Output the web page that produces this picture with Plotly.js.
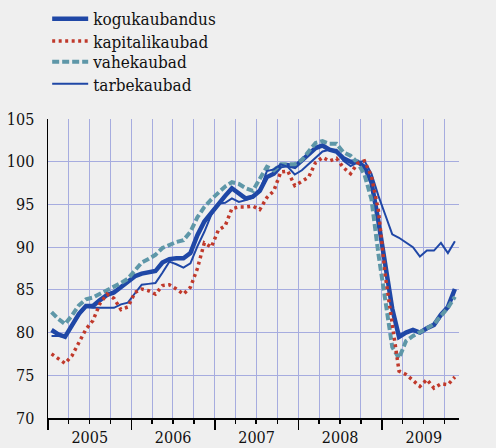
<!DOCTYPE html>
<html><head><meta charset="utf-8">
<script src="https://cdn.plot.ly/plotly-3.0.1.min.js"></script>
<style>html,body{margin:0;padding:0;background:#efefef}</style>
</head><body><div id="chart" style="width:496px;height:448px"></div>
<script>
const months = [
 "2005-01","2005-02","2005-03","2005-04","2005-05","2005-06","2005-07","2005-08","2005-09","2005-10","2005-11","2005-12",
 "2006-01","2006-02","2006-03","2006-04","2006-05","2006-06","2006-07","2006-08","2006-09","2006-10","2006-11","2006-12",
 "2007-01","2007-02","2007-03","2007-04","2007-05","2007-06","2007-07","2007-08","2007-09","2007-10","2007-11","2007-12",
 "2008-01","2008-02","2008-03","2008-04","2008-05","2008-06","2008-07","2008-08","2008-09","2008-10","2008-11","2008-12",
 "2009-01","2009-02","2009-03","2009-04","2009-05","2009-06","2009-07","2009-08","2009-09","2009-10","2009-11"];

const kogukaubandus = [
 80.3, 79.8, 79.5, 80.8, 82.2, 83.1, 83.1, 83.8, 84.4, 84.7, 85.3, 85.9,
 86.6, 86.9, 87.0, 87.2, 88.2, 88.6, 88.7, 88.7, 89.3, 91.4, 93.0, 94.0,
 95.2, 96.0, 96.9, 96.3, 95.7, 95.9, 96.6, 98.2, 98.6, 99.5, 99.6, 99.4,
 100.2, 100.9, 101.6, 101.9, 101.4, 101.2, 100.4, 100.0, 100.0, 99.4, 97.6, 93.0,
 87.7, 82.8, 79.5, 80.0, 80.3, 80.0, 80.5, 80.9, 82.1, 83.0, 85.1];

const kapitalikaubad = [
 77.5, 77.0, 76.4, 77.3, 78.9, 80.4, 81.4, 83.4, 84.5, 84.0, 82.7, 83.0,
 84.7, 85.1, 84.9, 84.5, 85.5, 85.6, 85.1, 84.5, 85.3, 87.5, 90.5, 90.0,
 92.0, 92.5, 94.5, 94.7, 94.7, 94.8, 94.4, 95.8, 96.6, 98.8, 98.9, 97.2,
 97.7, 98.2, 99.9, 100.5, 100.1, 100.4, 99.3, 98.6, 99.8, 100.1, 98.3, 94.3,
 86.5, 81.0, 75.5, 75.1, 74.4, 73.7, 74.5, 73.5, 74.0, 73.9, 74.8];

const vahekaubad = [
 82.4, 81.6, 81.0, 82.0, 83.2, 83.9, 84.1, 84.5, 84.9, 85.3, 85.8, 86.3,
 87.2, 88.2, 88.6, 89.1, 89.9, 90.3, 90.6, 90.8, 91.8, 93.5, 94.7, 95.6,
 96.4, 97.1, 97.6, 97.4, 96.9, 96.6, 98.0, 99.4, 99.0, 99.7, 99.7, 99.7,
 100.2, 101.2, 102.2, 102.4, 102.1, 102.1, 101.1, 100.7, 99.9, 98.5, 95.6, 89.2,
 83.4, 78.3, 77.0, 79.0, 79.6, 80.0, 80.5, 81.0, 81.9, 82.9, 84.2];

const tarbekaubad = [
 79.6, 79.6, 79.5, 80.8, 82.0, 83.0, 82.9, 82.9, 82.9, 82.9, 83.3, 83.5,
 84.6, 85.6, 85.7, 85.8, 87.0, 88.3, 88.0, 87.6, 88.1, 90.1, 91.8, 93.8,
 95.1, 95.2, 95.7, 95.3, 95.5, 95.8, 96.6, 98.9, 99.1, 99.7, 99.4, 98.5,
 99.0, 99.7, 100.5, 101.2, 101.4, 101.4, 100.1, 99.5, 99.9, 100.1, 98.6, 96.0,
 93.7, 91.5, 91.1, 90.5, 90.0, 88.9, 89.6, 89.6, 90.5, 89.3, 90.7];

const yTicks = [70, 75, 80, 85, 90, 95, 100, 105];

const FONT = 'DejaVu Serif Condensed, DejaVu Serif';
const GRID = "#a6acdf";
const BLUE = "#1f47a6";

const common = {type:'scatter', mode:'lines', x: months, xperiod:'M1', xperiodalignment:'middle', hoverinfo:'skip'};

const traces = [
 Object.assign({}, common, {name:'kogukaubandus', y:kogukaubandus, line:{color:BLUE, width:4.5}, legend:'legend'}),
 Object.assign({}, common, {name:'vahekaubad', y:vahekaubad, line:{color:'#5e97a8', width:4, dash:'7px,3px'}, legend:'legend3'}),
 Object.assign({}, common, {name:'tarbekaubad', y:tarbekaubad, line:{color:BLUE, width:2}, legend:'legend4'}),
 Object.assign({}, common, {name:'kapitalikaubad', y:kapitalikaubad, line:{color:'#c0392b', width:3.5, dash:'3px,3.5px'}, legend:'legend2'})
];

function leg(yc) {
  return {x:-0.002, y:yc, xanchor:'left', yanchor:'middle', bgcolor:'rgba(0,0,0,0)', borderwidth:0,
          font:{family:FONT, size:17, color:'#111'}, itemwidth:36};
}

const layout = {
 width:496, height:448,
 paper_bgcolor:'#efefef', plot_bgcolor:'#efefef',
 margin:{l:48, r:37, t:119, b:30, autoexpand:false},
 font:{family:FONT, size:16, color:'#111'},
 showlegend:true,
 legend: leg(1.334),
 legend2: leg(1.259),
 legend3: leg(1.190),
 legend4: leg(1.116),
 xaxis:{type:'date', range:['2005-01-01','2009-12-04'], tick0:'2005-01-01', dtick:'M12', tickformat:'%Y', ticklabelmode:'period',
   showgrid:true, gridcolor:GRID, gridwidth:1, ticks:'outside', ticklen:10, tickcolor:'#000', tickwidth:1.5,
   showline:true, linecolor:'#000', linewidth:1.5, zeroline:false, fixedrange:true, ticklabelstandoff:-6,
   tickfont:{family:FONT, size:16, color:'#111'},
   minor:{tick0:'2005-01-01', dtick:'M3', ticks:'outside', ticklen:4, tickcolor:'#000', tickwidth:1.5, showgrid:true, gridcolor:GRID, gridwidth:1}},
 yaxis:{range:[70,105], tickvals:yTicks, showgrid:true, gridcolor:GRID, gridwidth:1, showline:true, linecolor:'#000', linewidth:1.5,
   ticks:'', zeroline:false, fixedrange:true, ticklabelstandoff:9, tickfont:{family:FONT, size:16, color:'#111'}},
 yaxis2:{range:[70,105], tickvals:yTicks, overlaying:'y', side:'right', anchor:'x', showgrid:false, showline:true, linecolor:'#000', linewidth:1.5,
   ticks:'', zeroline:false, fixedrange:true, ticklabelstandoff:8, tickfont:{family:FONT, size:16, color:'#111'}}
};

Plotly.newPlot('chart', traces, layout, {displayModeBar:false, staticPlot:true});
</script></body></html>
